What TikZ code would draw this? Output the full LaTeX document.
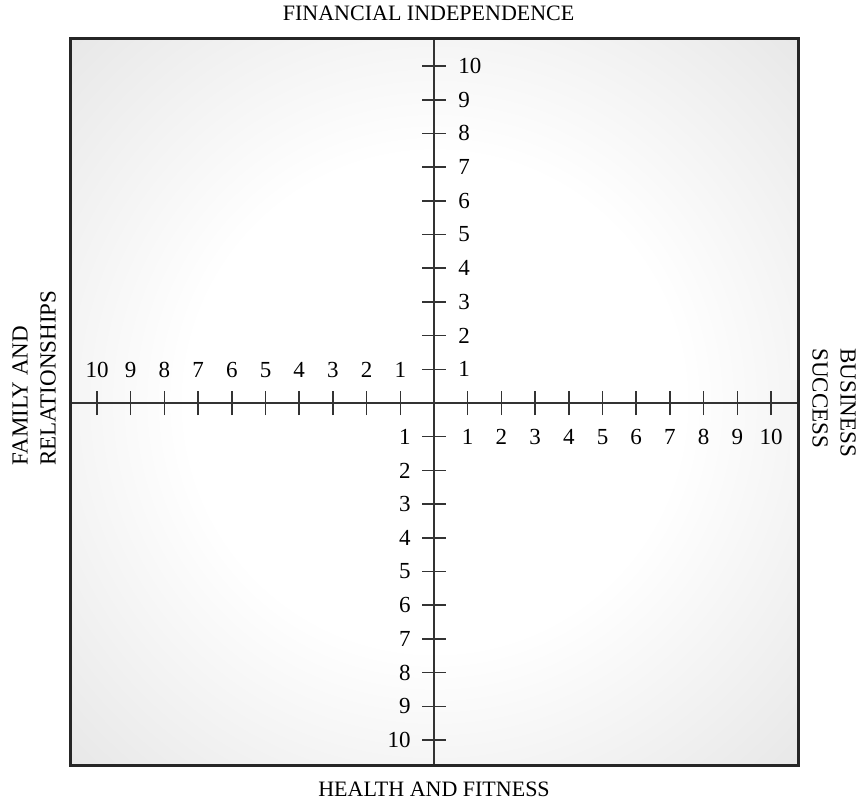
\documentclass[tikz,border=0pt]{standalone}
\usepackage{fontspec}
\setmainfont{Liberation Serif}
\usepackage{tikz}

\pgfdeclareradialshading{glow}{\pgfpoint{0bp}{0bp}}{color(0bp)=(white); color(17bp)=(white); color(35bp)=(black!9); color(50bp)=(black!18)}

\begin{document}
\begin{tikzpicture}[x=16.85pt,y=16.85pt,
  lbl/.style={font=\fontsize{11.5}{11.5}\selectfont, inner sep=1pt},
  title/.style={font=\fontsize{11}{11}\selectfont, inner sep=1pt, anchor=base},
  side/.style={font=\fontsize{11.5}{14}\selectfont, inner sep=1pt, align=left, anchor=west},
  axis/.style={line width=0.75pt, draw=black!80},
  frame/.style={line width=1.5pt, draw=black!85}]
  \useasboundingbox (-12.88,-11.87) rectangle (12.67,11.96);
  \shade[shading=glow] (-10.79,-10.76) rectangle (10.82,10.83);
  % axes
  \coordinate (west) at (-10.79,0);
  \coordinate (east) at (10.82,0);
  \coordinate (north) at (0,10.83);
  \coordinate (south) at (0,-10.76);
  \draw[axis] (west) -- (east);
  \draw[axis] (north) -- (south);
  \foreach \n in {1,...,10} {
    \draw[axis] (\n,-0.356) -- (\n,0.356);
    \draw[axis] (-\n,-0.356) -- (-\n,0.356);
    \draw[axis] (-0.356,\n) -- (0.356,\n);
    \draw[axis] (-0.356,-\n) -- (0.356,-\n);
    \node[lbl] (right\n) at (\n,-1) {\n};
    \node[lbl] (left\n) at (-\n,0.98) {\n};
    \node[lbl, anchor=west] (up\n) at (0.65,\n) {\n};
    \node[lbl, anchor=east] (down\n) at (-0.62,-\n) {\n};
  }
  \draw[frame] (-10.79,-10.76) rectangle (10.82,10.83);
  % titles
  \node[title] (finance) at (-0.16,11.36) {FINANCIAL INDEPENDENCE};
  \node[title] (health) at (0,-11.69) {HEALTH AND FITNESS};
  \node[side, rotate=90] (family) at (-11.87,-1.93) {FAMILY AND\\RELATIONSHIPS};
  \node[side, rotate=-90] (business) at (11.87,1.69) {BUSINESS\\SUCCESS};
\end{tikzpicture}
\end{document}
